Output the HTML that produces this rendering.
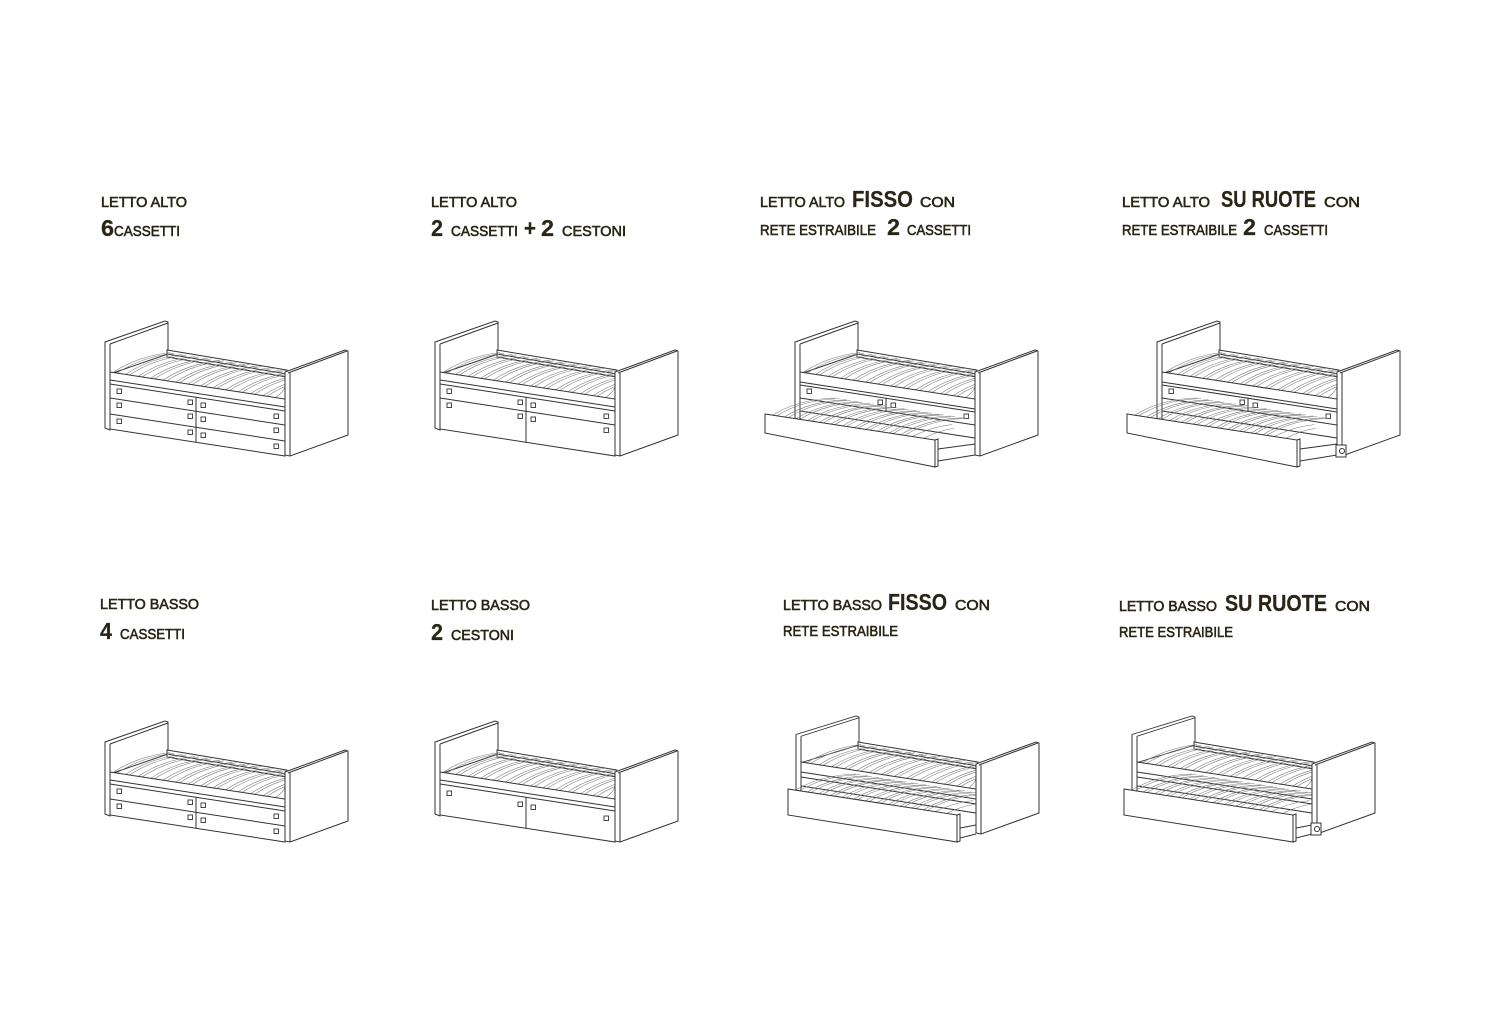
<!DOCTYPE html>
<html><head><meta charset="utf-8"><style>
html,body{margin:0;padding:0;background:#fff;}
svg{display:block}
.w{fill:#fff;stroke:#333;stroke-width:1}
.l{fill:none;stroke:#333;stroke-width:1}
.s{fill:none;stroke:#777;stroke-width:0.55}
.h{fill:#fff;stroke:#333;stroke-width:0.9}
text{font-family:"Liberation Sans",sans-serif;fill:#2a2516;stroke:#2a2516;stroke-width:0.6}
.b{font-size:23px;font-weight:bold;stroke-width:0.2}
.m{font-size:15px}
</style></head><body>
<svg width="1500" height="1023" viewBox="0 0 1500 1023" xmlns="http://www.w3.org/2000/svg">
<defs>
<path id="sl" class="s" d="M8,51.5 q24,-16 57,-20 m-53,20.6 q24,-16 57,-20 M20.5,53.4 q24,-16 57,-20 m-53,20.6 q24,-16 57,-20 M33,55.4 q24,-16 57,-20 m-53,20.6 q24,-16 57,-20 M45.5,57.3 q24,-16 57,-20 m-53,20.6 q24,-16 57,-20 M58,59.2 q24,-16 57,-20 m-53,20.6 q24,-16 57,-20 M70.5,61.2 q24,-16 57,-20 m-53,20.6 q24,-16 57,-20 M83,63.1 q24,-16 57,-20 m-53,20.6 q24,-16 57,-20 M95.5,65 q24,-16 57,-20 m-53,20.6 q24,-16 57,-20 M108,66.9 q24,-16 57,-20 m-53,20.6 q24,-16 57,-20 M120.5,68.9 q24,-16 57,-20 m-53,20.6 q24,-16 57,-20 M133,70.8 q24,-16 57,-20 m-53,20.6 q24,-16 57,-20 M145.5,72.7 q24,-16 57,-20 m-53,20.6 q24,-16 57,-20 M158,74.7 q24,-16 57,-20 m-53,20.6 q24,-16 57,-20 M170.5,76.6 q14,-10 10,-22"/>
<path id="tsl" class="s" d="M0,0 q26,-16 62,-17 m-58,17.6 q26,-16 62,-17 M11.6,1.8 q26,-16 62,-17 m-58,17.6 q26,-16 62,-17 M23.2,3.6 q26,-16 62,-17 m-58,17.6 q26,-16 62,-17 M34.8,5.4 q26,-16 62,-17 m-58,17.6 q26,-16 62,-17 M46.4,7.2 q26,-16 62,-17 m-58,17.6 q26,-16 62,-17 M58,9 q26,-16 62,-17 m-58,17.6 q26,-16 62,-17 M69.6,10.8 q26,-16 62,-17 m-58,17.6 q26,-16 62,-17 M81.2,12.6 q26,-16 62,-17 m-58,17.6 q26,-16 62,-17 M92.8,14.4 q26,-16 62,-17 m-58,17.6 q26,-16 62,-17 M104.4,16.2 q26,-16 62,-17 m-58,17.6 q26,-16 62,-17 M116,18 q26,-16 62,-17 m-58,17.6 q26,-16 62,-17 M127.6,19.8 q26,-16 62,-17 m-58,17.6 q26,-16 62,-17 M139.2,21.6 q20,-10 40,-12 M150.8,23.4 q15,-8 30,-10"/>
<g id="top">
  <polygon class="w" points="62,29 182,49 182,56 62,36"/>
  <path class="l" d="M62,33 L182,53"/>
  <use href="#sl"/>
</g>
<g id="headH"><polygon class="w" points="0,21 60,0 63,1 63,33 5,53 5,109 0,107"/><path class="l" d="M5,23 L63,2 M5,23 V109"/></g>
<g id="headL"><polygon class="w" points="0,21 60,0 63,1 63,33 5,53 5,95 0,93"/><path class="l" d="M5,23 L63,2 M5,23 V95"/></g>
<g id="footH"><polygon class="w" points="180,51 240,29 243,30 243,114 185,135 180,134"/><path class="l" d="M185,52 V135 M183,52 L242,30"/></g>
<g id="footL"><polygon class="w" points="180,51 240,29 243,30 243,100 185,121 180,120"/><path class="l" d="M185,52 V121 M183,52 L242,30"/></g>
<rect id="hd" class="h" width="4.5" height="4.5"/>
</defs>

<g transform="translate(105,321)">
  <use href="#headH"/><use href="#top"/>
  <polygon class="w" points="5,51 180,78 180,135 5,108"/>
  <path class="l" d="M5,59 L180,86 M5,63 L180,90 M5,77 L180,104 M5,93 L180,120 M91,76.3 V121.3"/>
  <use href="#hd" x="12" y="68"/><use href="#hd" x="83" y="79"/><use href="#hd" x="96" y="82"/><use href="#hd" x="169" y="93"/>
  <use href="#hd" x="12" y="82"/><use href="#hd" x="83" y="93"/><use href="#hd" x="96" y="96"/><use href="#hd" x="169" y="107"/>
  <use href="#hd" x="12" y="98"/><use href="#hd" x="83" y="109"/><use href="#hd" x="96" y="112"/><use href="#hd" x="169" y="123"/>
  <use href="#footH"/>
</g>
<g transform="translate(435,321)">
  <use href="#headH"/><use href="#top"/>
  <polygon class="w" points="5,51 180,78 180,135 5,108"/>
  <path class="l" d="M5,59 L180,86 M5,63 L180,90 M5,77 L180,104 M91,76.3 V121.3"/>
  <use href="#hd" x="12" y="68"/><use href="#hd" x="83" y="79"/><use href="#hd" x="96" y="82"/><use href="#hd" x="169" y="93"/>
  <use href="#hd" x="12" y="82"/><use href="#hd" x="83" y="93"/><use href="#hd" x="96" y="96"/><use href="#hd" x="169" y="107"/>
  <use href="#footH"/>
</g>
<g transform="translate(795,321)">
  <use href="#headH"/><use href="#top"/>
  <polygon class="w" points="5,51 180,78 180,117 5,90"/>
  <path class="l" d="M5,61 L180,88 M5,64 L180,91 M5,77 L180,104 M91,77.3 V90.3"/>
  <use href="#hd" x="12" y="68"/><use href="#hd" x="83" y="79"/><use href="#hd" x="96" y="82"/><use href="#hd" x="169" y="93"/>
  <path class="l" d="M143,128 L180,123 M143,140 L180,134"/>
  <use href="#tsl" transform="translate(-22,94)"/>
  <polygon class="w" points="-30,93 140,119 140,146 -30,112"/>
  <polygon class="w" points="140,119 143,118 143,145 140,146"/>
  <use href="#footH"/>
</g>
<g transform="translate(1157,321)">
  <use href="#headH"/><use href="#top"/>
  <polygon class="w" points="5,51 180,78 180,117 5,90"/>
  <path class="l" d="M5,61 L180,88 M5,64 L180,91 M5,77 L180,104 M91,77.3 V90.3"/>
  <use href="#hd" x="12" y="68"/><use href="#hd" x="83" y="79"/><use href="#hd" x="96" y="82"/><use href="#hd" x="169" y="93"/>
  <path class="l" d="M143,128 L180,123 M143,140 L180,134"/>
  <use href="#tsl" transform="translate(-22,94)"/>
  <polygon class="w" points="-30,93 140,119 140,146 -30,112"/>
  <polygon class="w" points="140,119 143,118 143,145 140,146"/>
  <use href="#footH"/>
  <rect class="w" x="179" y="124" width="10" height="12"/><circle class="l" cx="185" cy="130" r="2.5"/>
</g>
<g transform="translate(105,721)">
  <use href="#headL"/><use href="#top"/>
  <polygon class="w" points="5,51 180,78 180,121 5,94"/>
  <path class="l" d="M5,59 L180,86 M5,63 L180,90 M5,78 L180,105 M91,76.3 V107.3"/>
  <use href="#hd" x="12" y="68"/><use href="#hd" x="83" y="79"/><use href="#hd" x="96" y="82"/><use href="#hd" x="169" y="93"/>
  <use href="#hd" x="12" y="83"/><use href="#hd" x="83" y="94"/><use href="#hd" x="96" y="97"/><use href="#hd" x="169" y="108"/>
  <use href="#footL"/>
</g>
<g transform="translate(435,721)">
  <use href="#headL"/><use href="#top"/>
  <polygon class="w" points="5,51 180,78 180,121 5,94"/>
  <path class="l" d="M5,59 L180,86 M5,63 L180,90 M91,76.3 V107.3"/>
  <use href="#hd" x="12" y="70"/><use href="#hd" x="83" y="81"/><use href="#hd" x="96" y="84"/><use href="#hd" x="169" y="95"/>
  <use href="#footL"/>
</g>
<g transform="translate(796,716)">
  <use href="#headH" transform="scale(1,0.88)"/><use href="#top" transform="translate(0,-3)"/>
  <polygon class="w" points="5,46 180,73 180,97 5,70"/>
  <path class="l" d="M5,56 L180,83 M5,61 L180,88"/>
  <path class="l" d="M164,112 L180,109 M164,122 L180,118"/>
  <use href="#tsl" transform="translate(-2,75)"/>
  <polygon class="w" points="-8,73 161,99 161,126 -8,99"/>
  <polygon class="w" points="161,99 164,98 164,125 161,126"/>
  <use href="#footL" transform="translate(0,-3)"/>
</g>
<g transform="translate(1132,716)">
  <use href="#headH" transform="scale(1,0.88)"/><use href="#top" transform="translate(0,-3)"/>
  <polygon class="w" points="5,46 180,73 180,97 5,70"/>
  <path class="l" d="M5,56 L180,83 M5,61 L180,88"/>
  <path class="l" d="M164,112 L180,109 M164,122 L180,118"/>
  <use href="#tsl" transform="translate(-2,75)"/>
  <polygon class="w" points="-8,73 161,99 161,126 -8,99"/>
  <polygon class="w" points="161,99 164,98 164,125 161,126"/>
  <use href="#footL" transform="translate(0,-3)"/>
  <rect class="w" x="179" y="107" width="10" height="12"/><circle class="l" cx="185" cy="113" r="2.5"/>
</g>

<text class="m" x="101" y="207" textLength="86" lengthAdjust="spacingAndGlyphs">LETTO ALTO</text>
<text class="b" x="101" y="236" textLength="13" lengthAdjust="spacingAndGlyphs">6</text>
<text class="m" x="114" y="236" textLength="66" lengthAdjust="spacingAndGlyphs">CASSETTI</text>

<text class="m" x="431" y="207" textLength="86" lengthAdjust="spacingAndGlyphs">LETTO ALTO</text>
<text class="b" x="431" y="236" textLength="12" lengthAdjust="spacingAndGlyphs">2</text>
<text class="m" x="451" y="236" textLength="67" lengthAdjust="spacingAndGlyphs">CASSETTI</text>
<text class="b" x="524" y="236" textLength="12" lengthAdjust="spacingAndGlyphs">+</text>
<text class="b" x="541" y="236" textLength="13" lengthAdjust="spacingAndGlyphs">2</text>
<text class="m" x="562" y="236" textLength="64" lengthAdjust="spacingAndGlyphs">CESTONI</text>

<text class="m" x="760" y="207" textLength="85" lengthAdjust="spacingAndGlyphs">LETTO ALTO</text>
<text class="b" x="852" y="207" textLength="61" lengthAdjust="spacingAndGlyphs">FISSO</text>
<text class="m" x="920" y="207" textLength="35" lengthAdjust="spacingAndGlyphs">CON</text>
<text class="m" x="760" y="235" textLength="116" lengthAdjust="spacingAndGlyphs">RETE ESTRAIBILE</text>
<text class="b" x="887" y="235" textLength="13" lengthAdjust="spacingAndGlyphs">2</text>
<text class="m" x="907" y="235" textLength="64" lengthAdjust="spacingAndGlyphs">CASSETTI</text>

<text class="m" x="1122" y="207" textLength="88" lengthAdjust="spacingAndGlyphs">LETTO ALTO</text>
<text class="b" x="1221" y="207" textLength="95" lengthAdjust="spacingAndGlyphs">SU RUOTE</text>
<text class="m" x="1324" y="207" textLength="36" lengthAdjust="spacingAndGlyphs">CON</text>
<text class="m" x="1122" y="235" textLength="115" lengthAdjust="spacingAndGlyphs">RETE ESTRAIBILE</text>
<text class="b" x="1243" y="235" textLength="13" lengthAdjust="spacingAndGlyphs">2</text>
<text class="m" x="1264" y="235" textLength="64" lengthAdjust="spacingAndGlyphs">CASSETTI</text>

<text class="m" x="100" y="609" textLength="99" lengthAdjust="spacingAndGlyphs">LETTO BASSO</text>
<text class="b" x="100" y="639" textLength="12" lengthAdjust="spacingAndGlyphs">4</text>
<text class="m" x="120" y="639" textLength="65" lengthAdjust="spacingAndGlyphs">CASSETTI</text>

<text class="m" x="431" y="610" textLength="99" lengthAdjust="spacingAndGlyphs">LETTO BASSO</text>
<text class="b" x="431" y="640" textLength="12" lengthAdjust="spacingAndGlyphs">2</text>
<text class="m" x="451" y="640" textLength="63" lengthAdjust="spacingAndGlyphs">CESTONI</text>

<text class="m" x="783" y="610" textLength="99" lengthAdjust="spacingAndGlyphs">LETTO BASSO</text>
<text class="b" x="888" y="610" textLength="59" lengthAdjust="spacingAndGlyphs">FISSO</text>
<text class="m" x="955" y="610" textLength="35" lengthAdjust="spacingAndGlyphs">CON</text>
<text class="m" x="783" y="636" textLength="115" lengthAdjust="spacingAndGlyphs">RETE ESTRAIBILE</text>

<text class="m" x="1119" y="611" textLength="98" lengthAdjust="spacingAndGlyphs">LETTO BASSO</text>
<text class="b" x="1225" y="611" textLength="102" lengthAdjust="spacingAndGlyphs">SU RUOTE</text>
<text class="m" x="1335" y="611" textLength="35" lengthAdjust="spacingAndGlyphs">CON</text>
<text class="m" x="1119" y="637" textLength="114" lengthAdjust="spacingAndGlyphs">RETE ESTRAIBILE</text>
</svg>
</body></html>
